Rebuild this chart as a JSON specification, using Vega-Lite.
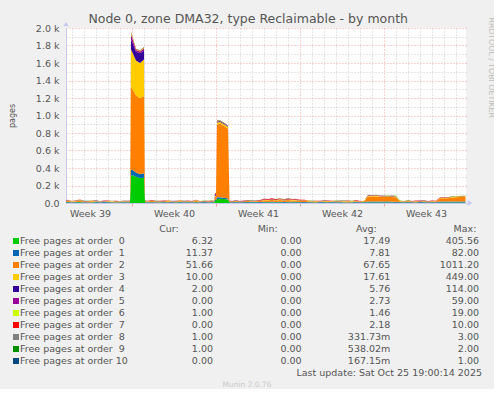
{
  "$schema": "https://vega.github.io/schema/vega-lite/v6.json",
  "background": "#f0f0f0",
  "padding": {"left": 8, "right": 0, "top": 12, "bottom": 0},
  "config": {"font": "DejaVu Sans", "view": {"stroke": null}},
  "title": {"text": "Node 0, zone DMA32, type Reclaimable - by month", "anchor": "middle", "frame": "bounds", "fontSize": 12.5, "fontWeight": "normal", "color": "#555555", "font": "DejaVu Sans", "offset": -8, "dx": -3},
  "spacing": 6,
  "resolve": {"scale": {"x": "independent", "y": "independent", "color": "independent"}},
  "vconcat": [
    {
      "width": 400,
      "height": 175,
      "view": {"fill": "#ffffff", "stroke": null},
      "layer": [
        {
          "data": {"values": [
            {"h":-4,"o00":4,"o01":8,"o02":6,"o03":3,"o04":2,"o05":1,"o06":1,"o07":2,"o08":0,"o09":1,"o10":0},
            {"h":4,"o00":6,"o01":5,"o02":12,"o03":4,"o04":3,"o05":2,"o06":1,"o07":3,"o08":0,"o09":1,"o10":0},
            {"h":12,"o00":3,"o01":6,"o02":5,"o03":2,"o04":1,"o05":1,"o06":2,"o07":2,"o08":1,"o09":0,"o10":0},
            {"h":20,"o00":5,"o01":7,"o02":9,"o03":6,"o04":2,"o05":0,"o06":1,"o07":1,"o08":0,"o09":1,"o10":0},
            {"h":28,"o00":8,"o01":4,"o02":14,"o03":5,"o04":3,"o05":1,"o06":1,"o07":3,"o08":0,"o09":0,"o10":0},
            {"h":36,"o00":4,"o01":5,"o02":6,"o03":3,"o04":1,"o05":1,"o06":1,"o07":2,"o08":1,"o09":1,"o10":0},
            {"h":44,"o00":3,"o01":6,"o02":8,"o03":2,"o04":2,"o05":1,"o06":0,"o07":2,"o08":0,"o09":1,"o10":0},
            {"h":52,"o00":5,"o01":4,"o02":10,"o03":4,"o04":1,"o05":0,"o06":1,"o07":3,"o08":0,"o09":0,"o10":0},
            {"h":60,"o00":6,"o01":7,"o02":7,"o03":2,"o04":3,"o05":1,"o06":1,"o07":2,"o08":0,"o09":1,"o10":1},
            {"h":68,"o00":4,"o01":5,"o02":5,"o03":3,"o04":2,"o05":2,"o06":1,"o07":1,"o08":1,"o09":0,"o10":0},
            {"h":76,"o00":3,"o01":9,"o02":6,"o03":2,"o04":4,"o05":1,"o06":2,"o07":2,"o08":0,"o09":1,"o10":0},
            {"h":84,"o00":5,"o01":6,"o02":8,"o03":3,"o04":2,"o05":1,"o06":1,"o07":3,"o08":0,"o09":1,"o10":0},
            {"h":92,"o00":4,"o01":5,"o02":6,"o03":4,"o04":1,"o05":1,"o06":1,"o07":2,"o08":1,"o09":0,"o10":0},
            {"h":100,"o00":6,"o01":4,"o02":9,"o03":2,"o04":2,"o05":0,"o06":1,"o07":2,"o08":0,"o09":1,"o10":0},
            {"h":108,"o00":3,"o01":6,"o02":5,"o03":3,"o04":3,"o05":1,"o06":1,"o07":1,"o08":0,"o09":1,"o10":0},
            {"h":116,"o00":5,"o01":7,"o02":8,"o03":2,"o04":2,"o05":1,"o06":0,"o07":2,"o08":1,"o09":0,"o10":0},
            {"h":124,"o00":4,"o01":5,"o02":6,"o03":3,"o04":1,"o05":1,"o06":1,"o07":3,"o08":0,"o09":1,"o10":0},
            {"h":128,"o00":5,"o01":6,"o02":8,"o03":3,"o04":2,"o05":1,"o06":1,"o07":2,"o08":0,"o09":1,"o10":0},
            {"h":130,"o00":310,"o01":65,"o02":960,"o03":420,"o04":112,"o05":57,"o06":18,"o07":10,"o08":3,"o09":2,"o10":1},
            {"h":132,"o00":320,"o01":62,"o02":930,"o03":420,"o04":110,"o05":52,"o06":15,"o07":8,"o08":2,"o09":2,"o10":1},
            {"h":140,"o00":300,"o01":50,"o02":880,"o03":400,"o04":100,"o05":20,"o06":5,"o07":5,"o08":1,"o09":1,"o10":0},
            {"h":148,"o00":285,"o01":45,"o02":870,"o03":400,"o04":112,"o05":20,"o06":6,"o07":5,"o08":1,"o09":1,"o10":0},
            {"h":156,"o00":290,"o01":50,"o02":880,"o03":420,"o04":100,"o05":25,"o06":8,"o07":6,"o08":2,"o09":1,"o10":0},
            {"h":158,"o00":6,"o01":5,"o02":10,"o03":3,"o04":2,"o05":1,"o06":1,"o07":2,"o08":0,"o09":1,"o10":0},
            {"h":164,"o00":4,"o01":6,"o02":7,"o03":3,"o04":1,"o05":1,"o06":1,"o07":2,"o08":0,"o09":1,"o10":0},
            {"h":172,"o00":7,"o01":5,"o02":12,"o03":2,"o04":2,"o05":1,"o06":1,"o07":3,"o08":0,"o09":0,"o10":0},
            {"h":180,"o00":3,"o01":7,"o02":6,"o03":4,"o04":3,"o05":1,"o06":2,"o07":1,"o08":1,"o09":1,"o10":0},
            {"h":188,"o00":5,"o01":4,"o02":9,"o03":3,"o04":1,"o05":0,"o06":1,"o07":2,"o08":0,"o09":1,"o10":0},
            {"h":196,"o00":6,"o01":6,"o02":7,"o03":2,"o04":2,"o05":2,"o06":1,"o07":2,"o08":0,"o09":0,"o10":1},
            {"h":204,"o00":4,"o01":5,"o02":11,"o03":5,"o04":1,"o05":1,"o06":1,"o07":3,"o08":0,"o09":1,"o10":0},
            {"h":212,"o00":3,"o01":8,"o02":6,"o03":2,"o04":2,"o05":1,"o06":0,"o07":2,"o08":1,"o09":1,"o10":0},
            {"h":220,"o00":5,"o01":5,"o02":8,"o03":3,"o04":3,"o05":1,"o06":1,"o07":1,"o08":0,"o09":0,"o10":0},
            {"h":228,"o00":7,"o01":6,"o02":10,"o03":2,"o04":1,"o05":1,"o06":2,"o07":2,"o08":0,"o09":1,"o10":0},
            {"h":236,"o00":4,"o01":4,"o02":6,"o03":4,"o04":2,"o05":0,"o06":1,"o07":3,"o08":0,"o09":1,"o10":0},
            {"h":244,"o00":5,"o01":7,"o02":9,"o03":3,"o04":1,"o05":1,"o06":1,"o07":2,"o08":1,"o09":0,"o10":0},
            {"h":252,"o00":3,"o01":5,"o02":7,"o03":2,"o04":2,"o05":1,"o06":1,"o07":2,"o08":0,"o09":1,"o10":0},
            {"h":260,"o00":6,"o01":6,"o02":12,"o03":4,"o04":3,"o05":1,"o06":1,"o07":3,"o08":0,"o09":1,"o10":0},
            {"h":268,"o00":4,"o01":5,"o02":8,"o03":3,"o04":1,"o05":1,"o06":0,"o07":2,"o08":0,"o09":0,"o10":0},
            {"h":276,"o00":5,"o01":8,"o02":6,"o03":2,"o04":2,"o05":1,"o06":1,"o07":1,"o08":1,"o09":1,"o10":0},
            {"h":284,"o00":3,"o01":5,"o02":9,"o03":3,"o04":1,"o05":1,"o06":1,"o07":2,"o08":0,"o09":1,"o10":0},
            {"h":292,"o00":6,"o01":6,"o02":7,"o03":2,"o04":2,"o05":0,"o06":1,"o07":3,"o08":0,"o09":1,"o10":0},
            {"h":296,"o00":5,"o01":5,"o02":8,"o03":3,"o04":2,"o05":1,"o06":1,"o07":2,"o08":0,"o09":1,"o10":0},
            {"h":298,"o00":20,"o01":15,"o02":30,"o03":15,"o04":15,"o05":8,"o06":4,"o07":6,"o08":1,"o09":1,"o10":0},
            {"h":300,"o00":25,"o01":12,"o02":35,"o03":14,"o04":12,"o05":8,"o06":3,"o07":5,"o08":1,"o09":1,"o10":0},
            {"h":302,"o00":45,"o01":20,"o02":830,"o03":25,"o04":10,"o05":5,"o06":3,"o07":5,"o08":1,"o09":1,"o10":0},
            {"h":308,"o00":50,"o01":15,"o02":840,"o03":20,"o04":8,"o05":5,"o06":2,"o07":3,"o08":1,"o09":1,"o10":0},
            {"h":316,"o00":45,"o01":15,"o02":820,"o03":20,"o04":8,"o05":4,"o06":2,"o07":4,"o08":0,"o09":1,"o10":0},
            {"h":324,"o00":40,"o01":12,"o02":800,"o03":20,"o04":5,"o05":2,"o06":2,"o07":3,"o08":1,"o09":1,"o10":0},
            {"h":327,"o00":5,"o01":6,"o02":9,"o03":3,"o04":2,"o05":1,"o06":1,"o07":2,"o08":0,"o09":1,"o10":0},
            {"h":332,"o00":4,"o01":5,"o02":7,"o03":2,"o04":1,"o05":1,"o06":1,"o07":3,"o08":0,"o09":0,"o10":0},
            {"h":340,"o00":6,"o01":7,"o02":10,"o03":3,"o04":2,"o05":1,"o06":1,"o07":2,"o08":1,"o09":1,"o10":0},
            {"h":348,"o00":3,"o01":5,"o02":6,"o03":4,"o04":1,"o05":0,"o06":1,"o07":2,"o08":0,"o09":1,"o10":0},
            {"h":356,"o00":5,"o01":6,"o02":8,"o03":2,"o04":3,"o05":1,"o06":1,"o07":3,"o08":0,"o09":0,"o10":0},
            {"h":364,"o00":4,"o01":8,"o02":11,"o03":3,"o04":1,"o05":1,"o06":2,"o07":2,"o08":0,"o09":1,"o10":0},
            {"h":372,"o00":6,"o01":5,"o02":7,"o03":2,"o04":2,"o05":1,"o06":1,"o07":2,"o08":1,"o09":1,"o10":0},
            {"h":380,"o00":5,"o01":6,"o02":9,"o03":4,"o04":1,"o05":1,"o06":1,"o07":3,"o08":0,"o09":0,"o10":0},
            {"h":388,"o00":4,"o01":7,"o02":12,"o03":3,"o04":2,"o05":1,"o06":1,"o07":4,"o08":0,"o09":1,"o10":0},
            {"h":396,"o00":6,"o01":8,"o02":18,"o03":5,"o04":3,"o05":2,"o06":2,"o07":6,"o08":1,"o09":1,"o10":0},
            {"h":404,"o00":5,"o01":7,"o02":16,"o03":6,"o04":2,"o05":1,"o06":1,"o07":8,"o08":0,"o09":1,"o10":0},
            {"h":412,"o00":7,"o01":9,"o02":20,"o03":4,"o04":3,"o05":2,"o06":2,"o07":7,"o08":1,"o09":0,"o10":0},
            {"h":420,"o00":5,"o01":6,"o02":15,"o03":5,"o04":2,"o05":1,"o06":1,"o07":9,"o08":0,"o09":1,"o10":0},
            {"h":428,"o00":6,"o01":8,"o02":19,"o03":6,"o04":3,"o05":2,"o06":2,"o07":6,"o08":1,"o09":1,"o10":0},
            {"h":436,"o00":4,"o01":7,"o02":14,"o03":4,"o04":2,"o05":1,"o06":1,"o07":8,"o08":0,"o09":1,"o10":0},
            {"h":444,"o00":6,"o01":9,"o02":18,"o03":5,"o04":3,"o05":2,"o06":1,"o07":7,"o08":1,"o09":1,"o10":0},
            {"h":452,"o00":5,"o01":8,"o02":16,"o03":6,"o04":2,"o05":1,"o06":2,"o07":6,"o08":0,"o09":1,"o10":0},
            {"h":460,"o00":6,"o01":7,"o02":17,"o03":5,"o04":3,"o05":1,"o06":1,"o07":7,"o08":1,"o09":0,"o10":0},
            {"h":468,"o00":5,"o01":6,"o02":12,"o03":4,"o04":2,"o05":1,"o06":1,"o07":5,"o08":0,"o09":1,"o10":0},
            {"h":476,"o00":4,"o01":7,"o02":14,"o03":3,"o04":2,"o05":1,"o06":1,"o07":4,"o08":0,"o09":1,"o10":0},
            {"h":484,"o00":6,"o01":5,"o02":10,"o03":4,"o04":1,"o05":1,"o06":1,"o07":3,"o08":1,"o09":0,"o10":0},
            {"h":492,"o00":3,"o01":6,"o02":7,"o03":2,"o04":2,"o05":1,"o06":1,"o07":2,"o08":0,"o09":1,"o10":0},
            {"h":500,"o00":5,"o01":5,"o02":9,"o03":3,"o04":1,"o05":0,"o06":1,"o07":2,"o08":0,"o09":1,"o10":0},
            {"h":508,"o00":4,"o01":7,"o02":6,"o03":2,"o04":2,"o05":1,"o06":1,"o07":3,"o08":0,"o09":0,"o10":0},
            {"h":516,"o00":6,"o01":5,"o02":8,"o03":4,"o04":1,"o05":1,"o06":2,"o07":2,"o08":1,"o09":1,"o10":0},
            {"h":524,"o00":3,"o01":6,"o02":10,"o03":3,"o04":3,"o05":1,"o06":1,"o07":2,"o08":0,"o09":1,"o10":0},
            {"h":532,"o00":5,"o01":8,"o02":7,"o03":2,"o04":1,"o05":0,"o06":1,"o07":1,"o08":0,"o09":0,"o10":0},
            {"h":540,"o00":4,"o01":5,"o02":9,"o03":3,"o04":2,"o05":1,"o06":1,"o07":2,"o08":0,"o09":1,"o10":0},
            {"h":548,"o00":6,"o01":6,"o02":6,"o03":2,"o04":1,"o05":1,"o06":1,"o07":3,"o08":1,"o09":1,"o10":0},
            {"h":556,"o00":3,"o01":7,"o02":8,"o03":4,"o04":2,"o05":1,"o06":0,"o07":2,"o08":0,"o09":1,"o10":0},
            {"h":564,"o00":5,"o01":5,"o02":10,"o03":3,"o04":1,"o05":1,"o06":1,"o07":2,"o08":0,"o09":0,"o10":0},
            {"h":572,"o00":4,"o01":6,"o02":7,"o03":2,"o04":2,"o05":0,"o06":1,"o07":2,"o08":0,"o09":1,"o10":0},
            {"h":580,"o00":6,"o01":8,"o02":9,"o03":3,"o04":1,"o05":1,"o06":2,"o07":3,"o08":1,"o09":1,"o10":0},
            {"h":588,"o00":3,"o01":5,"o02":6,"o03":2,"o04":2,"o05":1,"o06":1,"o07":2,"o08":0,"o09":1,"o10":0},
            {"h":596,"o00":5,"o01":6,"o02":8,"o03":3,"o04":1,"o05":1,"o06":1,"o07":2,"o08":0,"o09":0,"o10":0},
            {"h":604,"o00":5,"o01":12,"o02":58,"o03":8,"o04":3,"o05":2,"o06":1,"o07":2,"o08":1,"o09":1,"o10":0},
            {"h":612,"o00":6,"o01":11,"o02":56,"o03":7,"o04":4,"o05":2,"o06":1,"o07":2,"o08":0,"o09":1,"o10":0},
            {"h":620,"o00":5,"o01":12,"o02":57,"o03":8,"o04":3,"o05":2,"o06":2,"o07":2,"o08":1,"o09":1,"o10":0},
            {"h":628,"o00":6,"o01":10,"o02":55,"o03":7,"o04":3,"o05":1,"o06":1,"o07":2,"o08":0,"o09":1,"o10":0},
            {"h":636,"o00":5,"o01":11,"o02":56,"o03":6,"o04":4,"o05":2,"o06":1,"o07":2,"o08":1,"o09":1,"o10":0},
            {"h":644,"o00":6,"o01":12,"o02":52,"o03":7,"o04":3,"o05":1,"o06":1,"o07":2,"o08":0,"o09":1,"o10":0},
            {"h":652,"o00":5,"o01":10,"o02":54,"o03":6,"o04":3,"o05":2,"o06":1,"o07":2,"o08":1,"o09":1,"o10":0},
            {"h":660,"o00":4,"o01":11,"o02":52,"o03":8,"o04":2,"o05":1,"o06":1,"o07":2,"o08":0,"o09":1,"o10":0},
            {"h":668,"o00":5,"o01":6,"o02":8,"o03":3,"o04":1,"o05":1,"o06":1,"o07":2,"o08":0,"o09":1,"o10":0},
            {"h":676,"o00":4,"o01":5,"o02":7,"o03":2,"o04":2,"o05":1,"o06":1,"o07":2,"o08":0,"o09":0,"o10":0},
            {"h":684,"o00":6,"o01":7,"o02":9,"o03":4,"o04":1,"o05":0,"o06":1,"o07":3,"o08":1,"o09":1,"o10":0},
            {"h":692,"o00":3,"o01":6,"o02":6,"o03":2,"o04":2,"o05":1,"o06":1,"o07":2,"o08":0,"o09":1,"o10":0},
            {"h":700,"o00":5,"o01":5,"o02":10,"o03":3,"o04":1,"o05":1,"o06":2,"o07":2,"o08":0,"o09":0,"o10":0},
            {"h":708,"o00":4,"o01":8,"o02":7,"o03":2,"o04":3,"o05":1,"o06":1,"o07":2,"o08":0,"o09":1,"o10":0},
            {"h":716,"o00":6,"o01":5,"o02":8,"o03":4,"o04":1,"o05":1,"o06":1,"o07":3,"o08":1,"o09":1,"o10":0},
            {"h":724,"o00":3,"o01":6,"o02":6,"o03":3,"o04":2,"o05":0,"o06":1,"o07":2,"o08":0,"o09":1,"o10":0},
            {"h":732,"o00":5,"o01":7,"o02":9,"o03":2,"o04":1,"o05":1,"o06":1,"o07":2,"o08":0,"o09":0,"o10":0},
            {"h":740,"o00":4,"o01":5,"o02":7,"o03":3,"o04":2,"o05":1,"o06":1,"o07":2,"o08":0,"o09":1,"o10":0},
            {"h":748,"o00":5,"o01":11,"o02":38,"o03":6,"o04":2,"o05":1,"o06":1,"o07":1,"o08":1,"o09":1,"o10":0},
            {"h":756,"o00":6,"o01":12,"o02":37,"o03":5,"o04":2,"o05":1,"o06":1,"o07":1,"o08":1,"o09":1,"o10":0},
            {"h":764,"o00":5,"o01":11,"o02":38,"o03":6,"o04":2,"o05":1,"o06":1,"o07":1,"o08":1,"o09":1,"o10":0},
            {"h":772,"o00":6,"o01":12,"o02":45,"o03":9,"o04":2,"o05":1,"o06":1,"o07":1,"o08":1,"o09":1,"o10":0},
            {"h":780,"o00":6,"o01":11,"o02":48,"o03":10,"o04":2,"o05":1,"o06":1,"o07":0,"o08":1,"o09":1,"o10":0},
            {"h":788,"o00":6,"o01":12,"o02":50,"o03":10,"o04":2,"o05":1,"o06":1,"o07":0,"o08":1,"o09":1,"o10":0},
            {"h":796,"o00":6,"o01":11,"o02":51,"o03":10,"o04":2,"o05":0,"o06":1,"o07":0,"o08":1,"o09":1,"o10":0},
            {"h":799,"o00":6.32,"o01":11.37,"o02":51.66,"o03":10,"o04":2,"o05":0,"o06":1,"o07":0,"o08":1,"o09":1,"o10":0}
          ]},
          "transform": [{"fold": ["o00","o01","o02","o03","o04","o05","o06","o07","o08","o09","o10"], "as": ["series","pages"]}],
          "mark": {"type": "area", "clip": true, "interpolate": "linear"},
          "encoding": {
            "x": {
              "field": "h", "type": "quantitative",
              "scale": {"domain": [0, 800], "nice": false, "zero": false},
              "axis": {
                "title": null,
                "orient": "bottom",
                "values": [12,36,60,84,108,132,156,180,204,228,252,276,300,324,348,372,396,420,444,468,492,516,540,564,588,612,636,660,684,708,732,756,780],
                "labels": false,
                "grid": true,
                "gridColor": {"condition": {"test": "(datum.value - 132) % 168 == 0", "value": "#f0a8a8"}, "value": "#cccccc"},
                "gridDash": [1, 2],
                "ticks": true, "tickSize": 3,
                "tickColor": {"condition": {"test": "(datum.value - 132) % 168 == 0", "value": "#e8a0a0"}, "value": "#f0f0f0"},
                "domainColor": "#c8c8f0"
              }
            },
            "y": {
              "field": "pages", "type": "quantitative", "stack": "zero",
              "scale": {"domain": [0, 2000], "nice": false},
              "axis": {
                "title": "pages", "titleFontSize": 8, "titleFontWeight": "normal", "titleColor": "#555555", "titlePadding": 19,
                "values": [0,100,200,300,400,500,600,700,800,900,1000,1100,1200,1300,1400,1500,1600,1700,1800,1900,2000],
                "labelExpr": "datum.value % 200 != 0 ? '' : datum.value == 0 ? '0.0' : format(datum.value / 1000, '.1f') + ' k'",
                "labelFontSize": 9.5, "labelColor": "#555555", "labelPadding": 7,
                "ticks": false,
                "gridColor": {"condition": {"test": "datum.value % 200 == 0", "value": "#f0a8a8"}, "value": "#cccccc"},
                "gridDash": [1, 2],
                "domainColor": "#c8c8f0"
              }
            },
            "color": {
              "field": "series", "type": "nominal",
              "scale": {"domain": ["o00","o01","o02","o03","o04","o05","o06","o07","o08","o09","o10"], "range": ["#00CC00","#0066B3","#FF8000","#FFCC00","#330099","#990099","#CCFF00","#FF0000","#808080","#008F00","#00487D"]},
              "legend": null
            },
            "order": {"field": "series", "sort": "ascending"}
          }
        },
        {
          "data": {"values": [{"h": 808, "v": 0}]},
          "mark": {"type": "point", "shape": "triangle-right", "filled": true, "opacity": 1, "size": 28, "color": "#c8c8f0", "clip": false},
          "encoding": {
            "x": {
              "field": "h", "type": "quantitative",
              "axis": {
                "orient": "bottom", "title": null, "grid": false, "domain": false, "ticks": false,
                "values": [48, 216, 384, 552, 720],
                "labelExpr": "datum.value == 48 ? 'Week 39' : datum.value == 216 ? 'Week 40' : datum.value == 384 ? 'Week 41' : datum.value == 552 ? 'Week 42' : 'Week 43'",
                "labelOverlap": false, "labelFlush": false, "labelAngle": 0,
                "labelFontSize": 9.5, "labelColor": "#555555", "labelPadding": 5
              }
            },
            "y": {
              "field": "v", "type": "quantitative",
              "axis": {"orient": "right", "title": "RRDTOOL / TOBI OETIKER", "labels": false, "ticks": false, "domain": false, "grid": false,
                       "titleFontSize": 7.8, "titleColor": "#bbbbbb", "titleFontWeight": "normal", "titleAngle": 90, "titleAnchor": "end", "titleAlign": "left", "titlePadding": 20, "titleY": -11}
            }
          }
        },
        {
          "data": {"values": [{"h": 0, "v": 2046}]},
          "mark": {"type": "point", "shape": "triangle-up", "filled": true, "opacity": 1, "size": 28, "color": "#c8c8f0", "clip": false},
          "encoding": {
            "x": {"field": "h", "type": "quantitative", "axis": null},
            "y": {"field": "v", "type": "quantitative", "axis": null}
          }
        }
      ],
      "resolve": {"axis": {"x": "independent", "y": "independent"}}
    },
    {
      "width": 420,
      "height": 156,
      "data": {"values": [
        {"key":"o00","name":"Free pages at order \u00a00","Cur":"6.32","Min":"0.00","Avg":"17.49","Max":"405.56"},
        {"key":"o01","name":"Free pages at order \u00a01","Cur":"11.37","Min":"0.00","Avg":"7.81","Max":"82.00"},
        {"key":"o02","name":"Free pages at order \u00a02","Cur":"51.66","Min":"0.00","Avg":"67.65","Max":"1011.20"},
        {"key":"o03","name":"Free pages at order \u00a03","Cur":"10.00","Min":"0.00","Avg":"17.61","Max":"449.00"},
        {"key":"o04","name":"Free pages at order \u00a04","Cur":"2.00","Min":"0.00","Avg":"5.76","Max":"114.00"},
        {"key":"o05","name":"Free pages at order \u00a05","Cur":"0.00","Min":"0.00","Avg":"2.73","Max":"59.00"},
        {"key":"o06","name":"Free pages at order \u00a06","Cur":"1.00","Min":"0.00","Avg":"1.46","Max":"19.00"},
        {"key":"o07","name":"Free pages at order \u00a07","Cur":"0.00","Min":"0.00","Avg":"2.18","Max":"10.00"},
        {"key":"o08","name":"Free pages at order \u00a08","Cur":"1.00","Min":"0.00","Avg":"331.73m","Max":"3.00"},
        {"key":"o09","name":"Free pages at order \u00a09","Cur":"1.00","Min":"0.00","Avg":"538.02m","Max":"2.00"},
        {"key":"o10","name":"Free pages at order 10","Cur":"0.00","Min":"0.00","Avg":"167.15m","Max":"1.00"}
      ]},
      "resolve": {"scale": {"x": "independent"}},
      "layer": [
        {
          "transform": [{"fold": ["Cur","Min","Avg","Max"], "as": ["col","val"]}],
          "mark": {"type": "text", "align": "right", "baseline": "middle", "fontSize": 9.5, "color": "#555555", "font": "DejaVu Sans"},
          "encoding": {
            "x": {"field": "col", "type": "nominal", "scale": {"type": "point", "domain": ["Cur","Min","Avg","Max"], "range": [147, 413], "padding": 0}, "axis": null},
            "y": {"field": "key", "type": "nominal", "scale": {"type": "point", "domain": ["hdr","o00","o01","o02","o03","o04","o05","o06","o07","o08","o09","o10","upd","ver"], "padding": 0}, "axis": null},
            "text": {"field": "val"}
          }
        },
        {
          "data": {"values": [{"col":"Cur","h":"Cur:"},{"col":"Min","h":"Min:"},{"col":"Avg","h":"Avg:"},{"col":"Max","h":"Max:"}]},
          "mark": {"type": "text", "align": "center", "baseline": "middle", "fontSize": 9.5, "color": "#555555", "font": "DejaVu Sans"},
          "encoding": {
            "x": {"field": "col", "type": "nominal", "scale": {"type": "point", "domain": ["Cur","Min","Avg","Max"], "range": [103, 399], "padding": 0}, "axis": null},
            "y": {"datum": "hdr", "type": "nominal"},
            "text": {"field": "h"}
          }
        },
        {
          "mark": {"type": "square", "filled": true, "opacity": 1, "size": 36},
          "encoding": {
            "x": {"datum": "sw", "type": "nominal", "scale": {"type": "point", "domain": ["sw","name"], "range": [-50, -46], "padding": 0}, "axis": null},
            "y": {"field": "key", "type": "nominal"},
            "color": {"field": "key", "type": "nominal", "scale": {"domain": ["o00","o01","o02","o03","o04","o05","o06","o07","o08","o09","o10"], "range": ["#00CC00","#0066B3","#FF8000","#FFCC00","#330099","#990099","#CCFF00","#FF0000","#808080","#008F00","#00487D"]}, "legend": null}
          }
        },
        {
          "mark": {"type": "text", "align": "left", "baseline": "middle", "fontSize": 9.5, "color": "#555555", "font": "DejaVu Sans"},
          "encoding": {
            "x": {"datum": "name", "type": "nominal", "scale": {"type": "point", "domain": ["sw","name"], "range": [-50, -46], "padding": 0}, "axis": null},
            "y": {"field": "key", "type": "nominal"},
            "text": {"field": "name"}
          }
        },
        {
          "data": {"values": [{"label": "Last update: Sat Oct 25 19:00:14 2025"}]},
          "mark": {"type": "text", "align": "right", "baseline": "middle", "fontSize": 9.5, "color": "#555555", "font": "DejaVu Sans"},
          "encoding": {
            "x": {"datum": "upd", "type": "nominal", "scale": {"type": "point", "domain": ["ver","upd"], "range": [181, 416], "padding": 0}, "axis": null},
            "y": {"datum": "upd", "type": "nominal"},
            "text": {"field": "label"}
          }
        },
        {
          "data": {"values": [{"label": "Munin 2.0.76"}]},
          "mark": {"type": "text", "align": "center", "baseline": "middle", "fontSize": 7.5, "color": "#c8c8c8", "font": "DejaVu Sans"},
          "encoding": {
            "x": {"datum": "ver", "type": "nominal", "scale": {"type": "point", "domain": ["ver","upd"], "range": [181, 416], "padding": 0}, "axis": null},
            "y": {"datum": "ver", "type": "nominal"},
            "text": {"field": "label"}
          }
        }
      ]
    }
  ]
}
